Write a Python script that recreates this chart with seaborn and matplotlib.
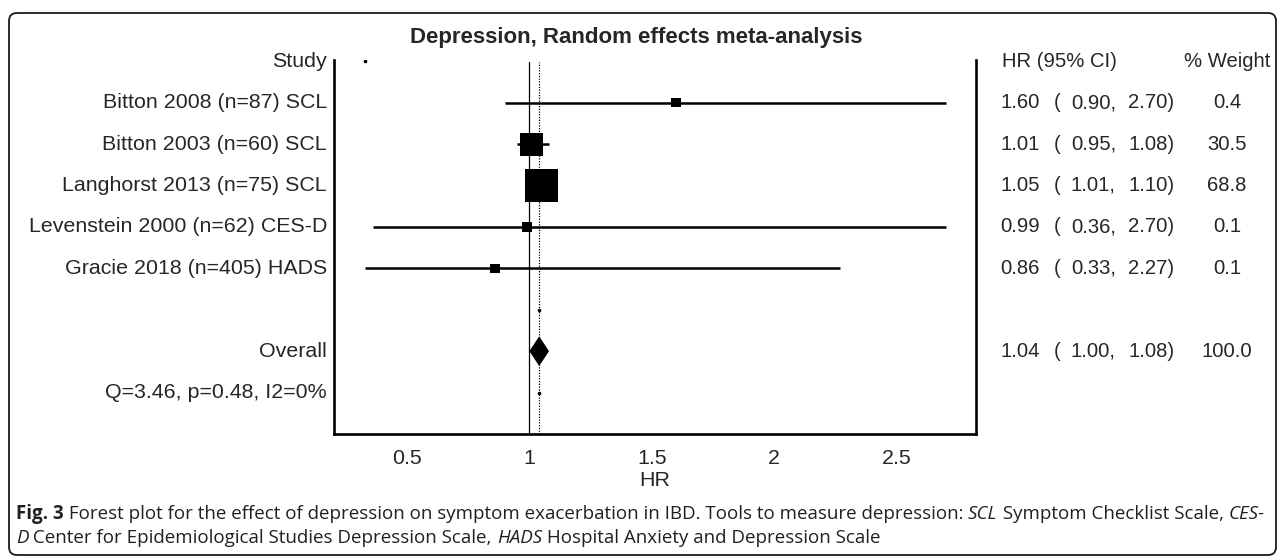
import pandas as pd
import seaborn as sns
import matplotlib.pyplot as plt
from matplotlib.patches import FancyBboxPatch
from matplotlib.transforms import blended_transform_factory

# Study level data
studies = ["Bitton 2008 (n=87) SCL", "Bitton 2003 (n=60) SCL", "Langhorst 2013 (n=75) SCL",
           "Levenstein 2000 (n=62) CES-D", "Gracie 2018 (n=405) HADS"]
hr = [1.60, 1.01, 1.05, 0.99, 0.86]
ci_low = [0.90, 0.95, 1.01, 0.36, 0.33]
ci_high = [2.70, 1.08, 1.10, 2.70, 2.27]
weight = [0.4, 30.5, 68.8, 0.1, 0.1]

# Pooled estimate
overall_hr = 1.04
overall_low = 1.00
overall_high = 1.08
overall_weight = 100.0
het_text = "Q=3.46, p=0.48, I2=0%"

x_ticks = [0.5, 1, 1.5, 2, 2.5]
x_tick_labels = ["0.5", "1", "1.5", "2", "2.5"]

title = "Depression, Random effects meta-analysis"
caption_line1 = [("Fig. 3", "bold"),
                 (" Forest plot for the effect of depression on symptom exacerbation in IBD. "
                  "Tools to measure depression: ", "normal"),
                 ("SCL", "italic"), (" Symptom Checklist Scale, ", "normal"), ("CES-", "italic")]
caption_line2 = [("D", "italic"), (" Center for Epidemiological Studies Depression Scale, ", "normal"),
                 ("HADS", "italic"), (" Hospital Anxiety and Depression Scale", "normal")]

sns.set_style("white")
plt.rcParams['font.family'] = ['Liberation Sans', 'DejaVu Sans']

W, H = 1285, 559
LABEL_FS = 15.4
NUM_FS = 14.6
fig = plt.figure(figsize=(W / 100, H / 100), dpi=100)
ax = fig.add_axes([334 / W, 1 - 434 / H, (976 - 334) / W, (434 - 60) / H])

df = pd.DataFrame({"study": studies, "hr": hr, "lo": ci_low, "hi": ci_high, "weight": weight})
df["row"] = range(1, len(df) + 1)
overall_row = len(df) + 2
het_row = overall_row + 1

# reference lines
ax.axvline(1, ymin=0, ymax=0.995, color="black", lw=0.9)
ax.axvline(overall_hr, ymin=0, ymax=0.995, color="black", lw=0.9, ls=(0, (1, 1.2)))

# confidence intervals
ax.hlines(df["row"], df["lo"], df["hi"], color="black", lw=1.8)

# weight boxes
sns.scatterplot(data=df, x="hr", y="row", size="weight", sizes=(46, 565), marker="s",
                color="black", linewidth=0, legend=False, ax=ax, zorder=3)

# pooled diamond
ax.fill([overall_low, overall_hr, overall_high, overall_hr],
        [overall_row, overall_row - 0.36, overall_row, overall_row + 0.36],
        color="black", lw=0, zorder=3)

# small stray dots that the original plot shows
ax.plot([0.327], [0], marker="o", ms=1.6, color="black", ls="none")
ax.plot([overall_hr, overall_hr], [overall_row - 1, het_row], marker="o", ms=1.6,
        color="black", ls="none")

ax.set_xlim(0.202, 2.824)
ax.set_ylim(het_row + 1, -0.03)
ax.set_yticks([])
ax.set_xticks(x_ticks)
ax.set_xticklabels(x_tick_labels, fontsize=LABEL_FS)
ax.tick_params(axis="x", direction="out", length=4, width=0.8, color="#777777", pad=7)
ax.set_xlabel("HR", fontsize=LABEL_FS, labelpad=2)
ax.set_ylabel("")
for side in ["left", "right", "bottom"]:
    ax.spines[side].set_linewidth(1.9)
    ax.spines[side].set_color("black")
ax.spines["top"].set_visible(False)

# left column labels
left_tr = blended_transform_factory(ax.transAxes, ax.transData)
lx = -7 / (976 - 334)
ax.text(lx, 0, "Study", transform=left_tr, ha="right", va="center", fontsize=LABEL_FS)
for r, name in zip(df["row"], df["study"]):
    ax.text(lx, r, name, transform=left_tr, ha="right", va="center", fontsize=LABEL_FS)
ax.text(lx, overall_row, "Overall", transform=left_tr, ha="right", va="center", fontsize=LABEL_FS)
ax.text(lx, het_row, het_text, transform=left_tr, ha="right", va="center", fontsize=LABEL_FS)

# right column: estimates and weights
right_tr = blended_transform_factory(fig.transFigure, ax.transData)
ax.text(1002 / W, 0, "HR (95% CI)", transform=right_tr, ha="left", va="center", fontsize=NUM_FS)
ax.text(1227 / W, 0, "% Weight", transform=right_tr, ha="center", va="center", fontsize=NUM_FS)
rows_out = list(zip(df["row"], hr, ci_low, ci_high, weight))
rows_out.append((overall_row, overall_hr, overall_low, overall_high, overall_weight))
for r, e, lo, hi, w in rows_out:
    ax.text(1000 / W, r, f"{e:.2f}", transform=right_tr, ha="left", va="center", fontsize=NUM_FS)
    ax.text(1054 / W, r, "(", transform=right_tr, ha="left", va="center", fontsize=NUM_FS)
    ax.text(1071 / W, r, f"{lo:.2f},", transform=right_tr, ha="left", va="center", fontsize=NUM_FS)
    ax.text(1128 / W, r, f"{hi:.2f})", transform=right_tr, ha="left", va="center", fontsize=NUM_FS)
    ax.text(1227 / W, r, f"{w:.1f}", transform=right_tr, ha="center", va="center", fontsize=NUM_FS)

fig.text(636 / W, 1 - 37 / H, title, ha="center", va="center", fontsize=16, fontweight="bold")

# rounded frame around the panel
frame = FancyBboxPatch((9 / 100, (H - 555) / 100), (1276 - 9) / 100, (555 - 13) / 100,
                       boxstyle="round,pad=0,rounding_size=0.08", transform=fig.dpi_scale_trans,
                       fill=False, edgecolor="#1a1a1a", lw=1.3)
fig.patches.append(frame)

# caption with mixed styles
renderer = fig.canvas.get_renderer()
cap_size = 13.5


def draw_runs(runs, x_px, y_px):
    x = x_px
    for txt, style in runs:
        t = fig.text(x / W, 1 - y_px / H, txt, ha="left", va="center", fontsize=cap_size,
                     family=["Open Sans", "DejaVu Sans"], color="#231f20",
                     fontweight="bold" if style == "bold" else "normal",
                     fontstyle="italic" if style == "italic" else "normal")
        x += t.get_window_extent(renderer).width


draw_runs(caption_line1, 16, 514)
draw_runs(caption_line2, 16, 538)

fig.savefig("out.png", dpi=100)
